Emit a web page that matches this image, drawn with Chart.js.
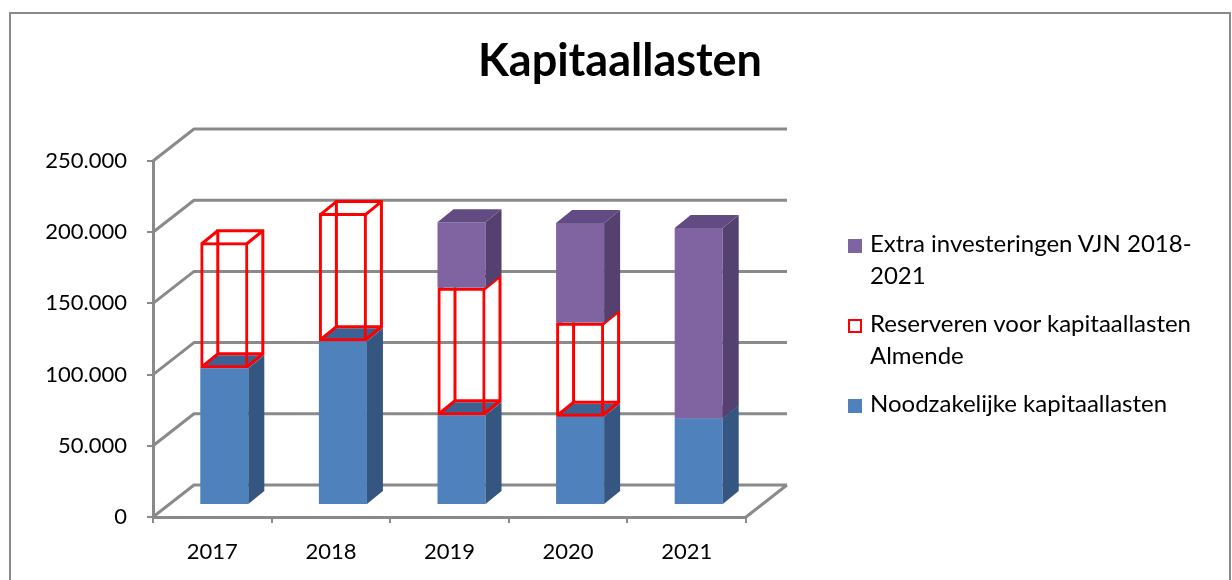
<!DOCTYPE html>
<html>
<head>
<meta charset="utf-8">
<title>Kapitaallasten</title>
<script src="https://cdn.jsdelivr.net/npm/chart.js@4.4.0/dist/chart.umd.min.js"></script>
<style>
  body { margin: 0; background: #fff; overflow: hidden; }
  #wrap { position: relative; width: 1232px; height: 580px; }
  #frame { position: absolute; left: 9px; top: 12px; width: 1218px; height: 620px; border: 2px solid #8a8a8a; }
  #c { position: absolute; left: 0; top: 0; }
  #legend { position: absolute; left: 848px; top: 227px; font-family: Lato, sans-serif; font-size: 24px; line-height: 32px; color: #000; }
  .item { position: relative; padding-left: 22px; width: 345px; margin-bottom: 16px; }
  .box { position: absolute; left: 0; top: 12px; width: 14px; height: 14px; box-sizing: border-box; }
</style>
</head>
<body>
<div id="wrap">
  <div id="frame"></div>
  <canvas id="c" width="1232" height="580"></canvas>
  <div id="legend"></div>
</div>
<script>
// data
const years = ['2017', '2018', '2019', '2020', '2021'];
const noodzakelijk = [96000, 115000, 63000, 62000, 61000];
const reserveren = [88500, 90000, 89500, 66000, 0];
const extra = [0, 0, 46000, 70000, 133500];
const seriesNames = [
  'Noodzakelijke kapitaallasten',
  'Reserveren voor kapitaallasten Almende',
  'Extra investeringen VJN 2018-2021'
];
const yMax = 250000;
const yStep = 50000;

// fake 3d: wall depth, where bars sit in it, and bar depth
const depth = { x: 41, y: -32 };
const front = { x: 12, y: -12 };
const barDepth = { x: 16, y: -13 };

function fmt(v) {
  return String(v).replace(/\B(?=(\d{3})+(?!\d))/g, '.');
}

const walls3d = {
  id: 'walls3d',
  beforeDatasetsDraw(chart) {
    const { ctx, chartArea: a, scales: { y } } = chart;
    ctx.save();
    ctx.strokeStyle = '#8a8a8a';
    ctx.lineWidth = 3;
    ctx.lineJoin = 'round';
    y.ticks.forEach(t => {
      const py = y.getPixelForValue(t.value);
      ctx.beginPath();
      if (t.value === 0) ctx.moveTo(a.right, py), ctx.lineTo(a.right + depth.x, py + depth.y);
      ctx.moveTo(a.left, py);
      ctx.lineTo(a.left + depth.x, py + depth.y);
      ctx.lineTo(a.right + depth.x, py + depth.y);
      ctx.stroke();
    });
    ctx.restore();
  },
  beforeDatasetDraw() {
    return false; // bars drawn below, in stacking order
  },
  afterDatasetsDraw(chart) {
    const ctx = chart.ctx;
    chart.data.datasets.forEach((ds, i) => {
      chart.getDatasetMeta(i).data.forEach(bar => {
        const { x, y, base, width } = bar.getProps(['x', 'y', 'base', 'width'], true);
        const top = Math.min(y, base), bottom = Math.max(y, base);
        if (bottom - top < 0.5) return;
        const x0 = x - width / 2, x1 = x + width / 2;
        const bx = barDepth.x, by = barDepth.y;
        ctx.save();
        ctx.translate(front.x, front.y);
        bar.draw(ctx);
        if (ds.wire) {
          const h = ds.borderWidth / 2;
          const l = x0 + h, r = x1 - h, t = top + h, b = bottom - h;
          ctx.strokeStyle = ds.borderColor;
          ctx.lineWidth = ds.borderWidth;
          ctx.beginPath();
          ctx.rect(l + bx, t + by, r - l, b - t);
          [[l, t], [r, t], [r, b], [l, b]].forEach(p => {
            ctx.moveTo(p[0], p[1]);
            ctx.lineTo(p[0] + bx, p[1] + by);
          });
          ctx.stroke();
        } else {
          ctx.fillStyle = ds.sideColor;
          ctx.beginPath();
          ctx.moveTo(x1, top);
          ctx.lineTo(x1 + bx, top + by);
          ctx.lineTo(x1 + bx, bottom + by);
          ctx.lineTo(x1, bottom);
          ctx.closePath();
          ctx.fill();
          ctx.fillStyle = ds.topColor;
          ctx.beginPath();
          ctx.moveTo(x0, top);
          ctx.lineTo(x1, top);
          ctx.lineTo(x1 + bx, top + by);
          ctx.lineTo(x0 + bx, top + by);
          ctx.closePath();
          ctx.fill();
        }
        ctx.restore();
      });
    });
  }
};

Chart.defaults.font.family = 'Lato, sans-serif';
Chart.defaults.color = '#000';

const chart = new Chart(document.getElementById('c'), {
  type: 'bar',
  data: {
    labels: years,
    datasets: [
      { label: seriesNames[0], data: noodzakelijk, backgroundColor: '#4f81bd', sideColor: '#345680', topColor: '#3c6293', borderWidth: 0 },
      { label: seriesNames[1], data: reserveren, backgroundColor: 'rgba(0,0,0,0)', borderColor: '#ff0000', borderWidth: 3, borderSkipped: false, wire: true },
      { label: seriesNames[2], data: extra, backgroundColor: '#8064a2', sideColor: '#55416f', topColor: '#624b82', borderWidth: 0 }
    ]
  },
  options: {
    responsive: false,
    animation: false,
    layout: { padding: { left: 8, top: 0, right: 0, bottom: 0 } },
    categoryPercentage: 1,
    barPercentage: 0.405,
    plugins: {
      legend: { display: false },
      tooltip: { enabled: false },
      title: {
        display: true,
        text: 'Kapitaallasten',
        font: { size: 45, weight: 'bold' },
        padding: { top: 34, bottom: 73 }
      }
    },
    scales: {
      x: {
        stacked: true,
        grid: { drawOnChartArea: false, tickLength: 6, color: '#8a8a8a', lineWidth: 2 },
        border: { color: '#8a8a8a', width: 3 },
        ticks: { font: { size: 22 }, padding: 16 },
        afterFit(s) { s.height = 63; }
      },
      y: {
        stacked: true,
        min: 0,
        max: yMax,
        grid: { drawOnChartArea: false, tickLength: 6, color: '#8a8a8a', lineWidth: 2 },
        border: { color: '#8a8a8a', width: 3 },
        ticks: { stepSize: yStep, font: { size: 22 }, padding: 20, callback: v => fmt(v) },
        afterFit(s) { s.width = 145; }
      },
      spacer: {
        position: 'right',
        grid: { display: false },
        border: { display: false },
        ticks: { display: false },
        afterFit(s) { s.width = 486; }
      }
    }
  },
  plugins: [walls3d]
});

// legend, Excel lists the stack top first
const legend = document.getElementById('legend');
chart.data.datasets.slice().reverse().forEach(ds => {
  const item = document.createElement('div');
  item.className = 'item';
  const box = document.createElement('span');
  box.className = 'box';
  if (ds.wire) {
    box.style.border = '2px solid ' + ds.borderColor;
    box.style.background = '#fff';
  } else {
    box.style.background = ds.backgroundColor;
  }
  item.appendChild(box);
  item.appendChild(document.createTextNode(ds.label));
  legend.appendChild(item);
});
</script>
</body>
</html>
